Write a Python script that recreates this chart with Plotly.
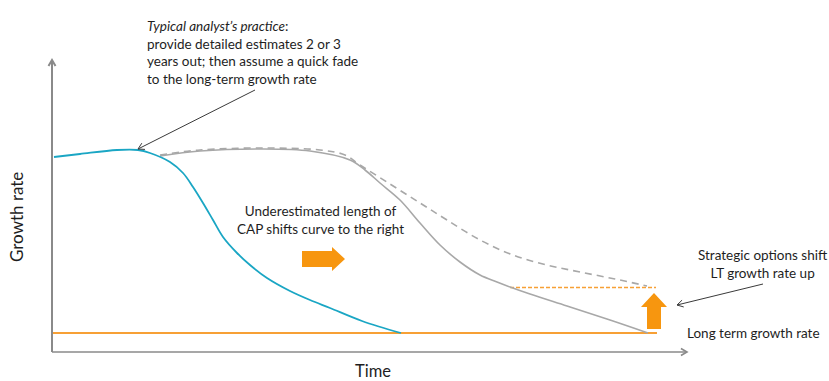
import math
import plotly.graph_objects as go

# ---- data (time units from origin, growth units above x-axis) ----
cyan_t = [2, 28, 65, 86, 98, 118, 131, 141, 151, 161, 171, 185, 198, 215, 238, 258, 278, 310, 349]
cyan_g = [195, 198, 202, 202, 199, 190, 179, 165, 149, 132, 115, 99, 87, 74, 61, 52, 44, 31, 19]

solid_t = [108, 148, 208, 258, 298, 313, 328, 348, 368, 388, 408, 428, 445, 458, 478, 515, 558, 596]
solid_g = [196, 201, 203, 201, 192, 182, 169, 152, 129, 107, 90, 77, 70, 65, 58, 46, 32, 19]

dash_t = [108, 148, 213, 268, 293, 308, 338, 368, 395, 428, 461, 495, 528, 563, 595]
dash_g = [197, 202, 204, 202, 197, 187, 168, 149, 132, 112, 97, 87, 80, 73, 66]

lt_growth = 19
lt_t = [0, 605]
strategic_growth = 64.5
strategic_t = [458, 604]

x_axis_end = 635
y_axis_end = 292

FONT = "Lato, 'Open Sans', sans-serif"
CYAN = "#1AA6C4"
GRAY = "#A8A8A8"
ORANGE = "#F7A035"
ORANGE_FILL = "#F7960F"
AXIS = "#8A8A8A"
TXT = "#1E1E1E"

fig = go.Figure()

fig.add_trace(go.Scatter(x=lt_t, y=[lt_growth] * 2, mode="lines",
                         line=dict(color=ORANGE, width=2), hoverinfo="skip"))
fig.add_trace(go.Scatter(x=strategic_t, y=[strategic_growth] * 2, mode="lines",
                         line=dict(color=ORANGE, width=1.6, dash="4px,2px"), hoverinfo="skip"))
fig.add_trace(go.Scatter(x=dash_t, y=dash_g, mode="lines",
                         line=dict(color=GRAY, width=1.6, dash="7px,5px", shape="spline", smoothing=1.0),
                         hoverinfo="skip"))
fig.add_trace(go.Scatter(x=solid_t, y=solid_g, mode="lines",
                         line=dict(color=GRAY, width=1.6, shape="spline", smoothing=1.0),
                         hoverinfo="skip"))
fig.add_trace(go.Scatter(x=cyan_t, y=cyan_g, mode="lines",
                         line=dict(color=CYAN, width=1.8, shape="spline", smoothing=1.0),
                         hoverinfo="skip"))

shapes = []


def line_arrow(x0, y0, x1, y1, color, width, head=6):
    shapes.append(dict(type="line", x0=x0, y0=y0, x1=x1, y1=y1,
                       line=dict(color=color, width=width), layer="above"))
    ang = math.atan2(y1 - y0, x1 - x0)
    pts = []
    for da in (math.radians(150), math.radians(-150)):
        pts.append((x1 + head * math.cos(ang + da), y1 + head * math.sin(ang + da)))
    path = f"M {pts[0][0]},{pts[0][1]} L {x1},{y1} L {pts[1][0]},{pts[1][1]}"
    shapes.append(dict(type="path", path=path, line=dict(color=color, width=width), layer="above"))


# axes
line_arrow(0, 0, 0, y_axis_end, AXIS, 2, head=7)
line_arrow(0, 0, x_axis_end, 0, AXIS, 1.6, head=7)

# callout arrows
line_arrow(203, 262, 86, 203, "#3A3A3A", 1, head=7)
line_arrow(711, 68, 625, 47, "#3A3A3A", 1, head=7)


def block_arrow(x0, y0, length, shaft_hw, head_hw, head_len, direction):
    if direction == "right":
        xs = x0 + length - head_len
        pts = [(x0, y0 - shaft_hw), (xs, y0 - shaft_hw), (xs, y0 - head_hw), (x0 + length, y0),
               (xs, y0 + head_hw), (xs, y0 + shaft_hw), (x0, y0 + shaft_hw)]
    else:  # up
        ys = y0 + length - head_len
        pts = [(x0 - shaft_hw, y0), (x0 - shaft_hw, ys), (x0 - head_hw, ys), (x0, y0 + length),
               (x0 + head_hw, ys), (x0 + shaft_hw, ys), (x0 + shaft_hw, y0)]
    path = "M " + " L ".join(f"{a},{b}" for a, b in pts) + " Z"
    shapes.append(dict(type="path", path=path, fillcolor=ORANGE_FILL, line=dict(width=0), layer="above"))


block_arrow(250, 93, 43, 8, 12, 13, "right")
block_arrow(602, lt_growth + 4, strategic_growth - lt_growth - 5.5 - 4, 7, 13, 14, "up")

annotations = [
    dict(x=93, y=336, xanchor="left", yanchor="top", align="left", showarrow=False,
         text="<i>Typical analyst’s practice</i>:<br>provide detailed estimates 2 or 3<br>"
              "years out; then assume a quick fade<br>to the long-term growth rate",
         font=dict(family=FONT, size=13.5, color=TXT)),
    dict(x=268, y=132, xanchor="center", yanchor="middle", align="center", showarrow=False,
         text="Underestimated length of<br>CAP shifts curve to the right",
         font=dict(family=FONT, size=13.5, color=TXT)),
    dict(x=711, y=88.5, xanchor="center", yanchor="middle", align="center", showarrow=False,
         text="Strategic options shift<br>LT growth rate up",
         font=dict(family=FONT, size=13.5, color=TXT)),
    dict(x=633, y=lt_growth, xanchor="left", yanchor="middle", showarrow=False,
         text="Long term growth rate", font=dict(family=FONT, size=13.5, color=TXT)),
    dict(x=-36, y=135, xanchor="center", yanchor="middle", showarrow=False, textangle=-90,
         text="Growth rate", font=dict(family=FONT, size=17, color=TXT)),
    dict(x=321, y=-19, xanchor="center", yanchor="middle", showarrow=False,
         text="Time", font=dict(family=FONT, size=16.5, color=TXT)),
]

fig.update_layout(
    width=829, height=381,
    margin=dict(l=0, r=0, t=0, b=0),
    paper_bgcolor="white", plot_bgcolor="white",
    showlegend=False,
    xaxis=dict(range=[-52, 777], visible=False, fixedrange=True),
    yaxis=dict(range=[-29, 352], visible=False, fixedrange=True),
    shapes=shapes,
    annotations=annotations,
)

fig.write_html("out.html", config={"displayModeBar": False},
               post_script="document.body.style.margin='0';document.body.style.overflow='hidden';")
